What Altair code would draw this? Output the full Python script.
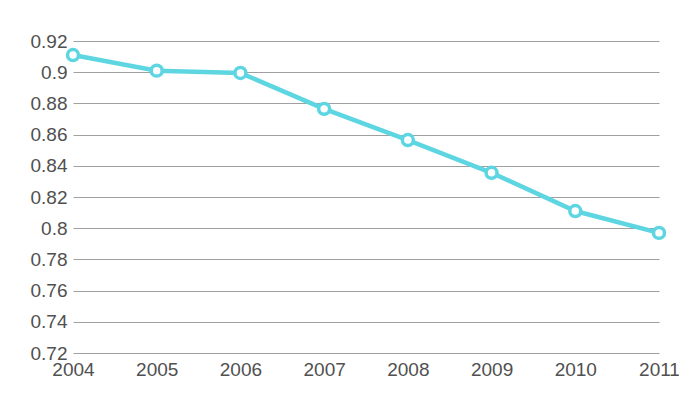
import altair as alt
import pandas as pd

years = [2004, 2005, 2006, 2007, 2008, 2009, 2010, 2011]
values = [0.911, 0.901, 0.8995, 0.8765, 0.8565, 0.8355, 0.811, 0.797]
y_ticks = [0.72, 0.74, 0.76, 0.78, 0.80, 0.82, 0.84, 0.86, 0.88, 0.90, 0.92]

df = pd.DataFrame({"year": years, "value": values})

color = "#5dd6e2"

base = alt.Chart(df).encode(
    x=alt.X("year:Q", scale=alt.Scale(domain=[2004, 2011], nice=False, zero=False),
            axis=alt.Axis(values=years, format="d", title=None, grid=False, domain=False,
                          ticks=False, labelFontSize=19, labelColor="#505050",
                          labelPadding=7, labelFont="Liberation Sans", labelFlush=False)),
    y=alt.Y("value:Q", scale=alt.Scale(domain=[0.72, 0.92], nice=False, zero=False),
            axis=alt.Axis(values=y_ticks, title=None, grid=True, gridColor="#a0a0a0",
                          gridWidth=1.2, domain=False, ticks=False, labelFontSize=19,
                          labelColor="#505050", labelPadding=6, labelFont="Liberation Sans",
                          labelFlush=False, labelExpr="format(datum.value, '~g')")),
)

line = base.mark_line(color=color, strokeWidth=4.5)
points = base.mark_point(filled=True, fill="white", stroke=color, strokeWidth=3.5,
                         size=120, opacity=1, shape="circle")

chart = (line + points).properties(
    width=586, height=312,
    autosize=alt.AutoSizeParams(type="none"),
    padding={"left": 65, "top": 33, "right": 20, "bottom": 30},
).configure_view(stroke=None)

chart.save("out.html", embed_options={"renderer": "svg", "actions": False})
